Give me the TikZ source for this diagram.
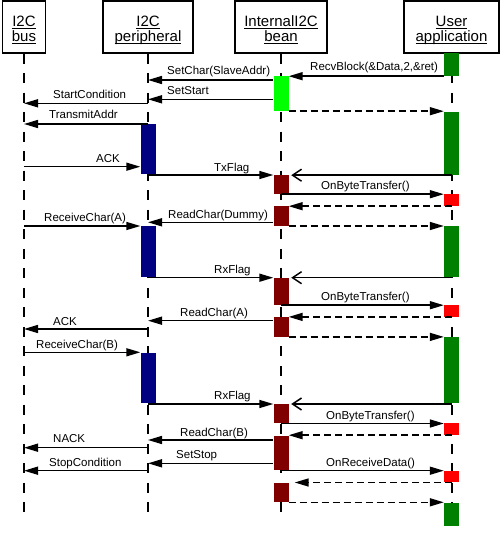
\documentclass[tikz,border=0pt]{standalone}
\usepackage{fontspec}
\setmainfont{Liberation Sans}
\usetikzlibrary{arrows.meta}

\definecolor{appgreen}{RGB}{0,128,0}
\definecolor{startgreen}{RGB}{0,255,0}
\definecolor{pernavy}{RGB}{0,0,128}
\definecolor{beanred}{RGB}{128,0,0}
\definecolor{eventred}{RGB}{255,0,0}

% underlined object name, fixed distance below the baseline
\newlength{\hdw}
\newcommand{\hd}[1]{\settowidth{\hdw}{#1}\rlap{\rule[-3pt]{\hdw}{1pt}}#1}
\newcommand{\hdtwo}[2]{\hd{#1}\rule{0pt}{18pt}\\\hd{#2}\rule[-4pt]{0pt}{4pt}}

% activation bar: name, lifeline, top, bottom, colour
\newcommand{\actbar}[5]{%
    \pgfmathsetmacro{\barmid}{(#3+#4)/2}%
    \pgfmathsetmacro{\barlen}{#4-#3}%
    \node[actbar, fill=#5, minimum height=\barlen pt] (#1) at (#2 |- 0,\barmid) {};%
}

\begin{document}
\begin{tikzpicture}[
    x=1pt,
    y=-1pt,
    head/.style={
        draw,
        line width=1.5pt,
        align=center,
        inner sep=0pt,
        minimum height=52pt,
        font=\fontsize{15}{15}\selectfont
    },
    life/.style={
        line width=2pt,
        dash pattern=on 10pt off 9.5pt
    },
    actbar/.style={
        rectangle,
        inner sep=0pt,
        minimum width=15pt
    },
    msg/.style={
        -{Triangle[length=14pt,width=8pt]},
        line width=1.5pt
    },
    reply/.style={
        msg,
        dash pattern=on 7pt off 4pt
    },
    flag/.style={
        -{Straight Barb[length=9pt,width=12pt]},
        line width=1.5pt,
        shorten >=2.5pt
    },
    lbl/.style={
        anchor=base west,
        inner sep=0pt,
        font=\fontsize{11.5}{13}\selectfont
    }
]

\useasboundingbox (0,0) rectangle (500,534);

\node[head, minimum width=43pt] (bus) at (24,27) {\hdtwo{I2C}{bus}};

\node[head, minimum width=90pt] (per) at (148,27) {\hdtwo{I2C}{peripheral}};

\node[head, minimum width=92pt] (bean) at (281,27) {\hdtwo{InternalI2C}{bean}};

\node[head, minimum width=95pt] (user) at (451.5,27) {\hdtwo{User}{application}};

\coordinate (bottom) at (0,512);

\draw[life] (bus.south) -- (bus |- bottom);
\draw[life] (per.south) -- (per |- bottom);
\draw[life] (bean.south) -- (bean |- bottom);
\draw[life] (user.south) -- (user |- bottom);

% activations
\actbar{u1}{user}{53}{76}{appgreen}
\actbar{b1}{bean}{76}{111}{startgreen}
\actbar{u2}{user}{112}{175}{appgreen}
\actbar{p1}{per}{124}{174}{pernavy}
\actbar{b2}{bean}{175}{194}{beanred}
\actbar{r1}{user}{194.5}{206}{eventred}
\actbar{b3}{bean}{206.5}{225.7}{beanred}
\actbar{u3}{user}{226}{276.7}{appgreen}
\actbar{p2}{per}{226}{276.7}{pernavy}
\actbar{b4}{bean}{277.7}{305}{beanred}
\actbar{r2}{user}{305}{316.7}{eventred}
\actbar{b5}{bean}{316.7}{336.7}{beanred}
\actbar{u4}{user}{336.7}{403.3}{appgreen}
\actbar{p3}{per}{352.7}{403.3}{pernavy}
\actbar{b6}{bean}{404}{423.3}{beanred}
\actbar{r3}{user}{423.3}{435}{eventred}
\actbar{b7}{bean}{435.7}{470}{beanred}
\actbar{r4}{user}{470.7}{482.3}{eventred}
\actbar{b8}{bean}{483.3}{501.7}{beanred}
\actbar{u5}{user}{502.5}{526}{appgreen}

% start of the transfer
\draw[msg] (u1.south west) -- (u1.south west -| b1.east);
\node[lbl] (recvblock) at (310,71) {RecvBlock(\&Data,2,\&ret)};

\draw[msg] (b1.west |- 0,80) -- (per |- 0,80);
\node[lbl] (setchar) at (167,75) {SetChar(SlaveAddr)};

\draw[msg] (b1.west |- 0,99.3) -- (per |- 0,99.3);
\node[lbl] (setstart) at (167,95) {SetStart};

\draw[msg] (per |- 0,103.3) -- (bus |- 0,103.3);
\node[lbl] (startcond) at (53,99) {StartCondition};

\draw[reply] (b1.south east) -- (b1.south east -| u2.west);

\draw[msg] (per |- 0,124) -- (bus |- 0,124);
\node[lbl] (transmit) at (49,119) {TransmitAddr};

\draw[msg] (bus |- 0,166.7) -- (p1.west |- 0,166.7);
\node[lbl] (ack1) at (96,162.7) {ACK};

% first byte
\draw[msg] (per |- 0,175) -- (b2.west |- 0,175);
\node[lbl] (txflag) at (214,171.7) {TxFlag};

\draw[flag] (u2.south) -- (u2.south -| b2.east);

\draw[msg] (b2.south) -- (b2.south -| r1.west);
\node[lbl] (bytetr1) at (321,190) {OnByteTransfer()};

\draw[reply] (r1.south) -- (r1.south -| b3.east);

\draw[msg] (b3.west |- 0,222.3) -- (per |- 0,222.3);
\node[lbl] (readdummy) at (168,218.3) {ReadChar(Dummy)};

\draw[msg] (bus |- 0,226) -- (p2.west |- 0,226);
\node[lbl] (recva) at (44,221.7) {ReceiveChar(A)};

\draw[reply] (b3.east |- 0,226) -- (u3.west |- 0,226);

% second byte
\draw[msg] (per |- 0,277.7) -- (b4.west |- 0,277.7);
\node[lbl] (rxflag1) at (214,273) {RxFlag};

\draw[flag] (user |- 0,277.7) -- (b4.east |- 0,277.7);

\draw[msg] (b4.south) -- (b4.south -| r2.west);
\node[lbl] (bytetr2) at (321,300.7) {OnByteTransfer()};

\draw[reply] (r2.south) -- (r2.south -| b5.east);

\draw[msg] (b5.west |- 0,320.7) -- (per |- 0,320.7);
\node[lbl] (reada) at (180,316.7) {ReadChar(A)};

\draw[msg] (per |- 0,329) -- (bus |- 0,329);
\node[lbl] (ack2) at (53,325) {ACK};

\draw[reply] (b5.south east) -- (b5.south east -| u4.west);

\draw[msg] (bus |- 0,352.3) -- (p3.west |- 0,352.3);
\node[lbl] (recvb) at (36,348.3) {ReceiveChar(B)};

% last byte
\draw[msg] (per |- 0,404) -- (b6.west |- 0,404);
\node[lbl] (rxflag2) at (214,399) {RxFlag};

\draw[flag] (user |- 0,404) -- (b6.east |- 0,404);

\draw[msg] (b6.south) -- (b6.south -| r3.west);
\node[lbl] (bytetr3) at (326,419) {OnByteTransfer()};

\draw[reply] (r3.south) -- (r3.south -| b7.east);

\draw[msg] (b7.west |- 0,440) -- (per |- 0,440);
\node[lbl] (readb) at (180,436) {ReadChar(B)};

\draw[msg] (per |- 0,447.7) -- (bus |- 0,447.7);
\node[lbl] (nack) at (53,442.7) {NACK};

\draw[msg] (b7.west |- 0,463.3) -- (per |- 0,463.3);
\node[lbl] (setstop) at (176,458.3) {SetStop};

\draw[msg] (per |- 0,470.7) -- (bus |- 0,470.7);
\node[lbl] (stopcond) at (49,466) {StopCondition};

\draw[msg] (bean |- 0,470.7) -- (r4.west |- 0,470.7);
\node[lbl] (recvdata) at (326,466) {OnReceiveData()};

\draw[reply, shorten >=6pt] (r4.south) -- (r4.south -| b8.east);

\draw[reply] (b8.east |- 0,502.3) -- (u5.west |- 0,502.3);

\end{tikzpicture}
\end{document}
